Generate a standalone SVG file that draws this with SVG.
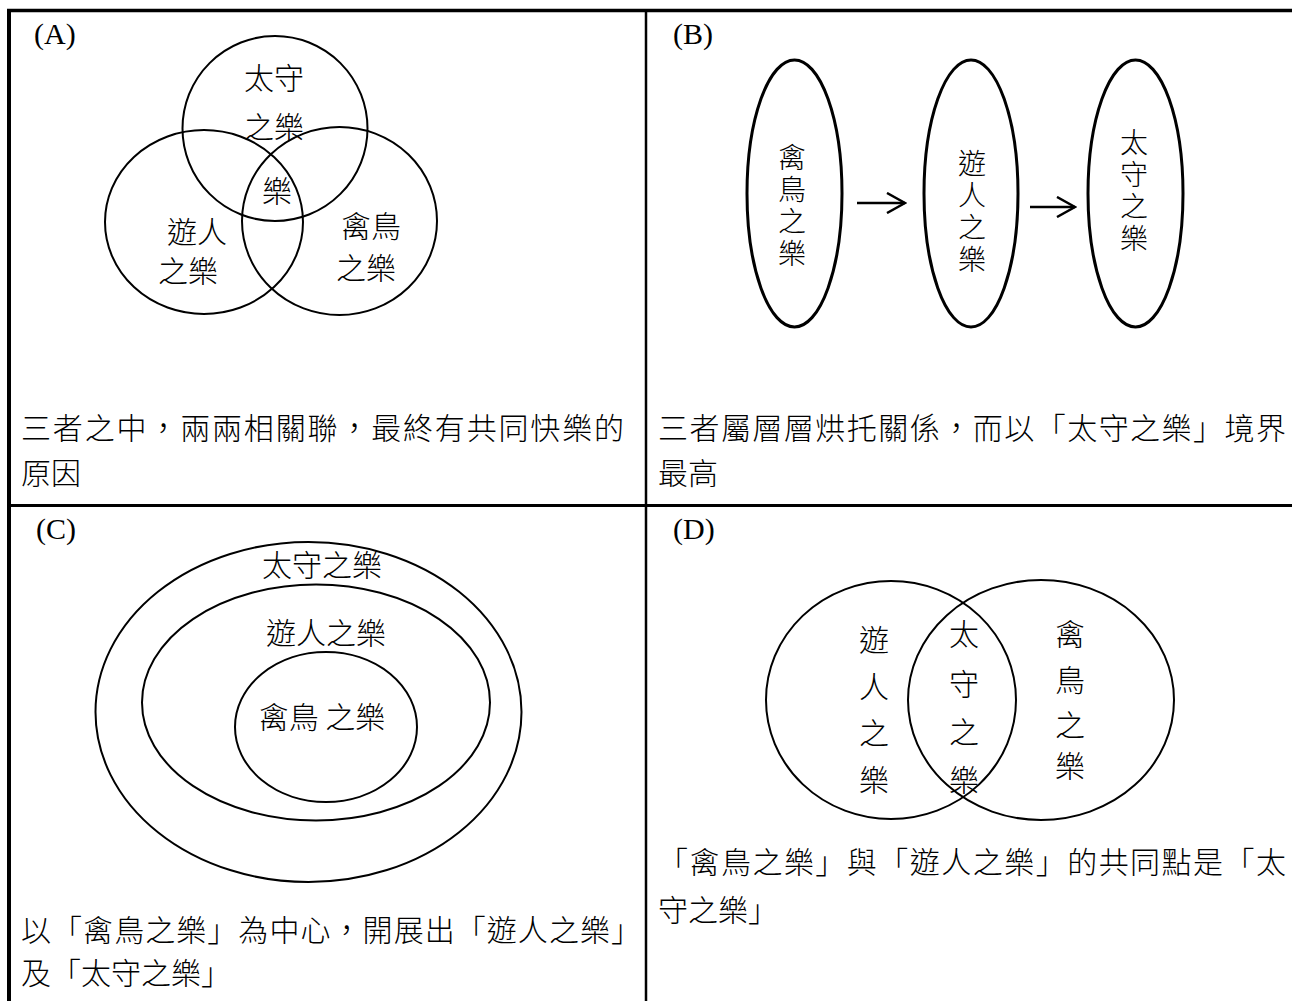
<svg xmlns="http://www.w3.org/2000/svg" width="1292" height="1001" viewBox="0 0 1292 1001">
<style>
.t{font-family:"Noto Sans CJK TC","Noto Sans CJK SC",sans-serif;font-size:30px;font-weight:300;fill:#000}
.v{font-size:28px;writing-mode:vertical-rl;letter-spacing:4px;text-anchor:middle}
.m{text-anchor:middle}
.lbl{font-family:"Liberation Serif",serif;font-size:30px;fill:#000}
.c{fill:none;stroke:#000;stroke-width:2}
.e{fill:none;stroke:#000;stroke-width:3}
.g{fill:none;stroke:#000}
</style>
<defs>
<marker id="arr" viewBox="-1 -1 22 22" refX="19" refY="10" markerWidth="22" markerHeight="22" markerUnits="userSpaceOnUse" orient="auto">
<path d="M1,0 L19,10 L1,20" fill="none" stroke="#000" stroke-width="2.5"/>
</marker>
</defs>
<rect width="1292" height="1001" fill="#fff"/>
<g id="grid" class="g">
<line x1="7" y1="10.5" x2="1292" y2="10.5" stroke-width="3.5"/>
<line x1="9" y1="9" x2="9" y2="1001" stroke-width="4"/>
<line x1="646" y1="10" x2="646" y2="1001" stroke-width="2.5"/>
<line x1="9" y1="505.5" x2="1292" y2="505.5" stroke-width="3"/>
</g>
<g id="cellA">
<text class="lbl" x="34" y="44">(A)</text>
<g id="a-top"><circle class="c" cx="275" cy="128.5" r="92.5"/><text class="t m" x="274" y="89">太守</text><text class="t m" x="274" y="138">之樂</text></g>
<g id="a-left"><ellipse class="c" cx="204" cy="222" rx="99" ry="92"/><text class="t m" x="197" y="243">遊人</text><text class="t m" x="188" y="282">之樂</text></g>
<g id="a-right"><ellipse class="c" cx="339.5" cy="221" rx="97.5" ry="94"/><text class="t m" x="371" y="237">禽鳥</text><text class="t m" x="366" y="279">之樂</text></g>
<g id="a-center"><text class="t m" x="277" y="202">樂</text></g>
<text class="t" x="21" y="439" textLength="603" lengthAdjust="spacing">三者之中，兩兩相關聯，最終有共同快樂的</text>
<text class="t" x="21" y="484">原因</text>
</g>
<g id="cellB">
<text class="lbl" x="673" y="44">(B)</text>
<g id="b1"><ellipse class="e" cx="794.5" cy="193.5" rx="47.5" ry="133.5"/>
<text class="t v" x="792" y="207">禽鳥之樂</text></g>
<g id="b2"><ellipse class="e" cx="971" cy="193.5" rx="47" ry="133.5"/>
<text class="t v" x="972" y="213">遊人之樂</text></g>
<g id="b3"><ellipse class="e" cx="1135.5" cy="193.5" rx="47.5" ry="133.5"/>
<text class="t v" x="1134" y="192">太守之樂</text></g>
<text class="t" x="658" y="439" textLength="628" lengthAdjust="spacing">三者屬層層烘托關係，而以「太守之樂」境界</text>
<text class="t" x="658" y="484">最高</text>
</g>
<g id="connectors" fill="none" stroke="#000" stroke-width="2.5">
<line x1="857" y1="203" x2="905" y2="203" marker-end="url(#arr)"/>
<line x1="1030" y1="207" x2="1075" y2="207" marker-end="url(#arr)"/>
</g>
<g id="cellC">
<text class="lbl" x="36" y="539">(C)</text>
<g id="c-outer"><ellipse class="c" cx="308.5" cy="712" rx="213" ry="170" stroke-width="2.5"/><text class="t m" x="322" y="576">太守之樂</text></g>
<g id="c-mid"><ellipse class="c" cx="316" cy="702.5" rx="174" ry="118" stroke-width="2.5"/><text class="t m" x="326" y="644">遊人之樂</text></g>
<g id="c-inner"><ellipse class="c" cx="326" cy="727" rx="91" ry="75" stroke-width="2.5"/><text class="t m" x="322" y="728">禽鳥 之樂</text></g>
<text class="t" x="21" y="941" textLength="620" lengthAdjust="spacing">以「禽鳥之樂」為中心，開展出「遊人之樂」</text>
<text class="t" x="21" y="984">及「太守之樂」</text>
</g>
<g id="cellD">
<text class="lbl" x="673" y="539">(D)</text>
<g id="d-left"><ellipse class="c" cx="891" cy="700" rx="125" ry="119"/>
<text class="t m"><tspan x="874" y="651">遊</tspan><tspan x="874" y="698">人</tspan><tspan x="874" y="744">之</tspan><tspan x="874" y="791">樂</tspan></text></g>
<g id="d-right"><ellipse class="c" cx="1041" cy="700" rx="133" ry="120"/>
<text class="t m"><tspan x="1070" y="645">禽</tspan><tspan x="1070" y="691">鳥</tspan><tspan x="1070" y="736">之</tspan><tspan x="1070" y="777">樂</tspan></text></g>
<g id="d-center"><text class="t m"><tspan x="964" y="645">太</tspan><tspan x="964" y="695">守</tspan><tspan x="964" y="743">之</tspan><tspan x="964" y="791">樂</tspan></text></g>
<text class="t" x="658" y="873" textLength="628" lengthAdjust="spacing">「禽鳥之樂」與「遊人之樂」的共同點是「太</text>
<text class="t" x="658" y="921">守之樂」</text>
</g>
</svg>
